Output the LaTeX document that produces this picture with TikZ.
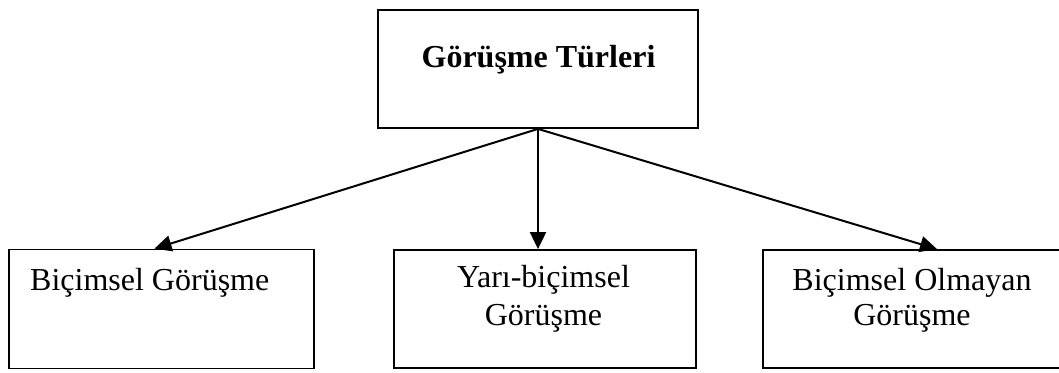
\documentclass[tikz,border=0pt]{standalone}
\usepackage{fontspec}
\setmainfont{Liberation Serif}
\usetikzlibrary{arrows.meta,calc}
\begin{document}
\begin{tikzpicture}[x=1pt,y=-1pt,
  box/.style={draw,line width=1.8pt,rectangle,inner sep=0pt},
  txt/.style={font=\fontsize{32}{38}\selectfont,inner sep=0pt,anchor=base,align=center},
  link/.style={line width=2pt,-{Triangle[length=17pt,width=16pt]}}]
\useasboundingbox (0,0) rectangle (1059,372);
% boxes
\node[box,minimum width=320pt,minimum height=118pt] (top) at (538,69) {};
\node[box,minimum width=305pt,minimum height=119pt] (l) at (161.5,309) {};
\node[box,minimum width=302pt,minimum height=118pt] (m) at (545,309) {};
\node[box,minimum width=298pt,minimum height=118pt] (r) at (912,309) {};
% texts
\node[txt,font=\fontsize{32}{38}\selectfont\bfseries] (ttop) at (538.5,67) {Görüşme Türleri};
\node[txt,anchor=base west] (tl) at (30,290) {Biçimsel Görüşme};
\node[txt] (tm1) at (543.5,287) {Yarı-biçimsel};
\node[txt] (tm2) at (543.5,325) {Görüşme};
\node[txt] (tr1) at (912,290) {Biçimsel Olmayan};
\node[txt] (tr2) at (912,325) {Görüşme};
% connectors
\draw[link] (top.south) -- ($(l.north)+(-7,0)$);
\draw[link] (top.south) -- ($(m.north)+(-7,0)$);
\draw[link] (top.south) -- ($(r.north)+(25,0)$);
\end{tikzpicture}
\end{document}
